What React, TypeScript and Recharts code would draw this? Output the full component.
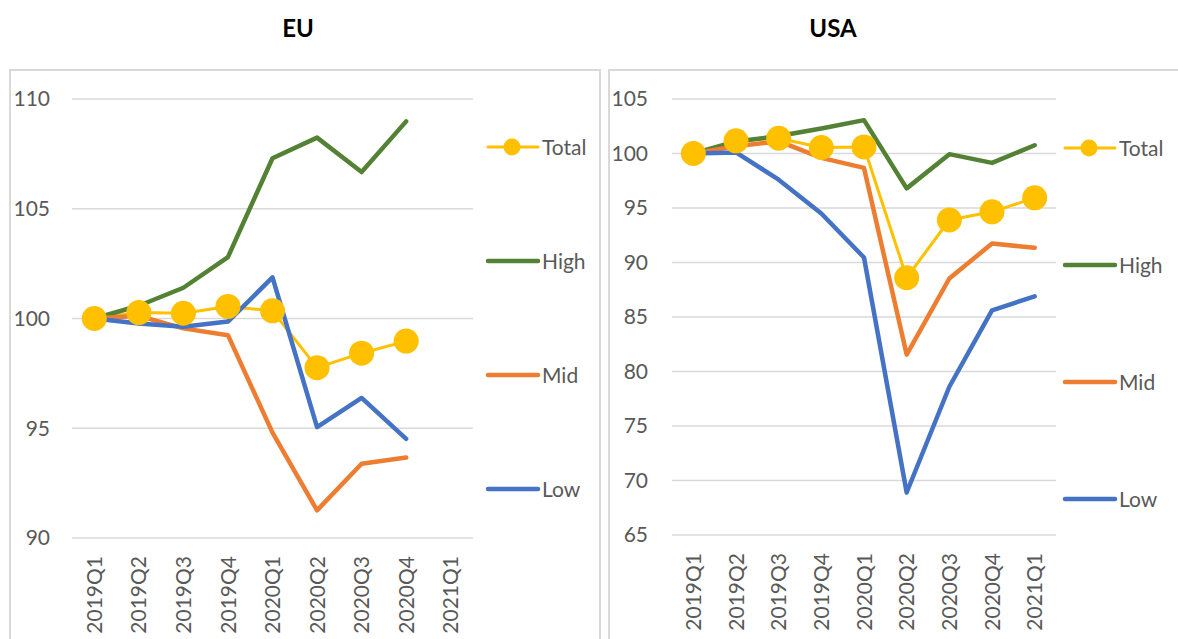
import React from 'react';
import { LineChart, Line, XAxis, YAxis, CartesianGrid } from 'recharts';

const quarters = ['2019Q1', '2019Q2', '2019Q3', '2019Q4', '2020Q1', '2020Q2', '2020Q3', '2020Q4', '2021Q1'];

const euTotal = [100, 100.27, 100.24, 100.55, 100.35, 97.76, 98.42, 98.97, null];
const euHigh = [100, 100.58, 101.4, 102.8, 107.3, 108.24, 106.67, 108.98, null];
const euMid = [100, 100.12, 99.55, 99.24, 94.8, 91.26, 93.38, 93.67, null];
const euLow = [100, 99.77, 99.62, 99.86, 101.87, 95.05, 96.38, 94.52, null];

const usTotal = [100, 101.16, 101.4, 100.55, 100.6, 88.6, 93.9, 94.65, 95.93];
const usHigh = [100, 101.1, 101.6, 102.3, 103.06, 96.8, 99.94, 99.14, 100.76];
const usMid = [100, 100.67, 101.13, 99.6, 98.68, 81.55, 88.53, 91.74, 91.35];
const usLow = [100, 100.1, 97.6, 94.5, 90.46, 68.9, 78.6, 85.6, 86.9];

const euTicks = [90, 95, 100, 105, 110];
const usTicks = [65, 70, 75, 80, 85, 90, 95, 100, 105];

const seriesNames = ['Total', 'High', 'Mid', 'Low'];
const seriesColors = ['#FFC000', '#548235', '#ED7D31', '#4472C4'];

const FONT = 'Lato, "Open Sans", sans-serif';
const TEXT = '#595959';
const GRID = '#d9d9d9';

function build(total: (number | null)[], high: (number | null)[], mid: (number | null)[], low: (number | null)[]) {
  return quarters.map((q, i) => ({ q, Total: total[i], High: high[i], Mid: mid[i], Low: low[i] }));
}

const euData = build(euTotal, euHigh, euMid, euLow);
const usData = build(usTotal, usHigh, usMid, usLow);

const XTick = (props: any) => {
  const { x, y, payload } = props;
  return (
    <text
      transform={`translate(${x},${y}) rotate(-90)`}
      textAnchor="end"
      dy="0.36em"
      fill={TEXT}
      fontSize={21}
      fontFamily={FONT}
    >
      {payload.value}
    </text>
  );
};

function Panel(props: {
  data: any[];
  ticks: number[];
  domain: [number, number];
  left: number;
  width: number;
  marginRight: number;
  marginBottom: number;
  yMargin: number;
}) {
  const { data, ticks, domain, left, width, marginRight, marginBottom, yMargin } = props;
  return (
    <div style={{ position: 'absolute', left, top: 0 }}>
      <LineChart
        width={width}
        height={639}
        data={data}
        margin={{ top: 99, right: marginRight, bottom: marginBottom, left: 0 }}
      >
        <CartesianGrid vertical={false} stroke={GRID} strokeWidth={1.6} />
        <XAxis
          dataKey="q"
          scale="band"
          axisLine={false}
          tickLine={false}
          interval={0}
          height={88}
          tick={<XTick />}
          tickMargin={18}
          tickSize={0}
        />
        <YAxis
          width={72}
          domain={domain}
          ticks={ticks}
          axisLine={false}
          tickLine={false}
          tickSize={0}
          tickMargin={yMargin}
          interval={0}
          tick={{ fill: TEXT, fontSize: 21, fontFamily: FONT }}
        />
        <Line
          dataKey="Total"
          stroke={seriesColors[0]}
          strokeWidth={3}
          dot={{ r: 12.5, fill: seriesColors[0], stroke: seriesColors[0], strokeWidth: 0 }}
          isAnimationActive={false}
          strokeLinejoin="round"
        />
        <Line dataKey="High" stroke={seriesColors[1]} strokeWidth={4.5} dot={false} isAnimationActive={false} strokeLinejoin="round" strokeLinecap="round" />
        <Line dataKey="Mid" stroke={seriesColors[2]} strokeWidth={4.5} dot={false} isAnimationActive={false} strokeLinejoin="round" strokeLinecap="round" />
        <Line dataKey="Low" stroke={seriesColors[3]} strokeWidth={4.5} dot={false} isAnimationActive={false} strokeLinejoin="round" strokeLinecap="round" />
      </LineChart>
    </div>
  );
}

function LegendBlock(props: { left: number; tops: number[] }) {
  const { left, tops } = props;
  return (
    <>
      {seriesNames.map((name, i) => (
        <div
          key={name}
          style={{
            position: 'absolute',
            left,
            top: tops[i] - 15,
            height: 30,
            display: 'flex',
            alignItems: 'center',
            fontFamily: FONT,
            fontSize: 21,
            color: TEXT,
          }}
        >
          <svg width={58} height={30} style={{ display: 'block' }}>
            <line
              x1={3}
              y1={15}
              x2={53}
              y2={15}
              stroke={seriesColors[i]}
              strokeWidth={i === 0 ? 3 : 4.5}
              strokeLinecap="round"
            />
            {i === 0 && <circle cx={27} cy={15} r={8.5} fill={seriesColors[0]} />}
          </svg>
          <span style={{ marginLeft: -1, lineHeight: '30px' }}>{name}</span>
        </div>
      ))}
    </>
  );
}

export default function App() {
  return (
    <div
      style={{
        position: 'absolute',
        left: 0,
        top: 0,
        width: 1178,
        height: 639,
        background: '#fff',
        overflow: 'hidden',
        fontFamily: FONT,
      }}
    >
      <div style={{ position: 'absolute', left: 9, top: 69, width: 592, height: 620, border: `2px solid ${GRID}`, boxSizing: 'border-box' }} />
      <div style={{ position: 'absolute', left: 608, top: 69, width: 620, height: 620, border: `2px solid ${GRID}`, boxSizing: 'border-box' }} />
      <div style={{ position: 'absolute', left: 198, width: 200, top: 12, textAlign: 'center', fontWeight: 'bold', fontSize: 24, color: '#000', lineHeight: '32px' }}>EU</div>
      <div style={{ position: 'absolute', left: 733, width: 200, top: 12, textAlign: 'center', fontWeight: 'bold', fontSize: 24, color: '#000', lineHeight: '32px' }}>USA</div>
      <Panel data={euData} ticks={euTicks} domain={[90, 110]} left={0} width={600} marginRight={127} marginBottom={13} yMargin={22} />
      <Panel data={usData} ticks={usTicks} domain={[65, 105]} left={600} width={578} marginRight={122} marginBottom={16} yMargin={24} />
      <LegendBlock left={485} tops={[147, 261, 375, 489]} />
      <LegendBlock left={1062} tops={[148, 265, 382, 499]} />
    </div>
  );
}
